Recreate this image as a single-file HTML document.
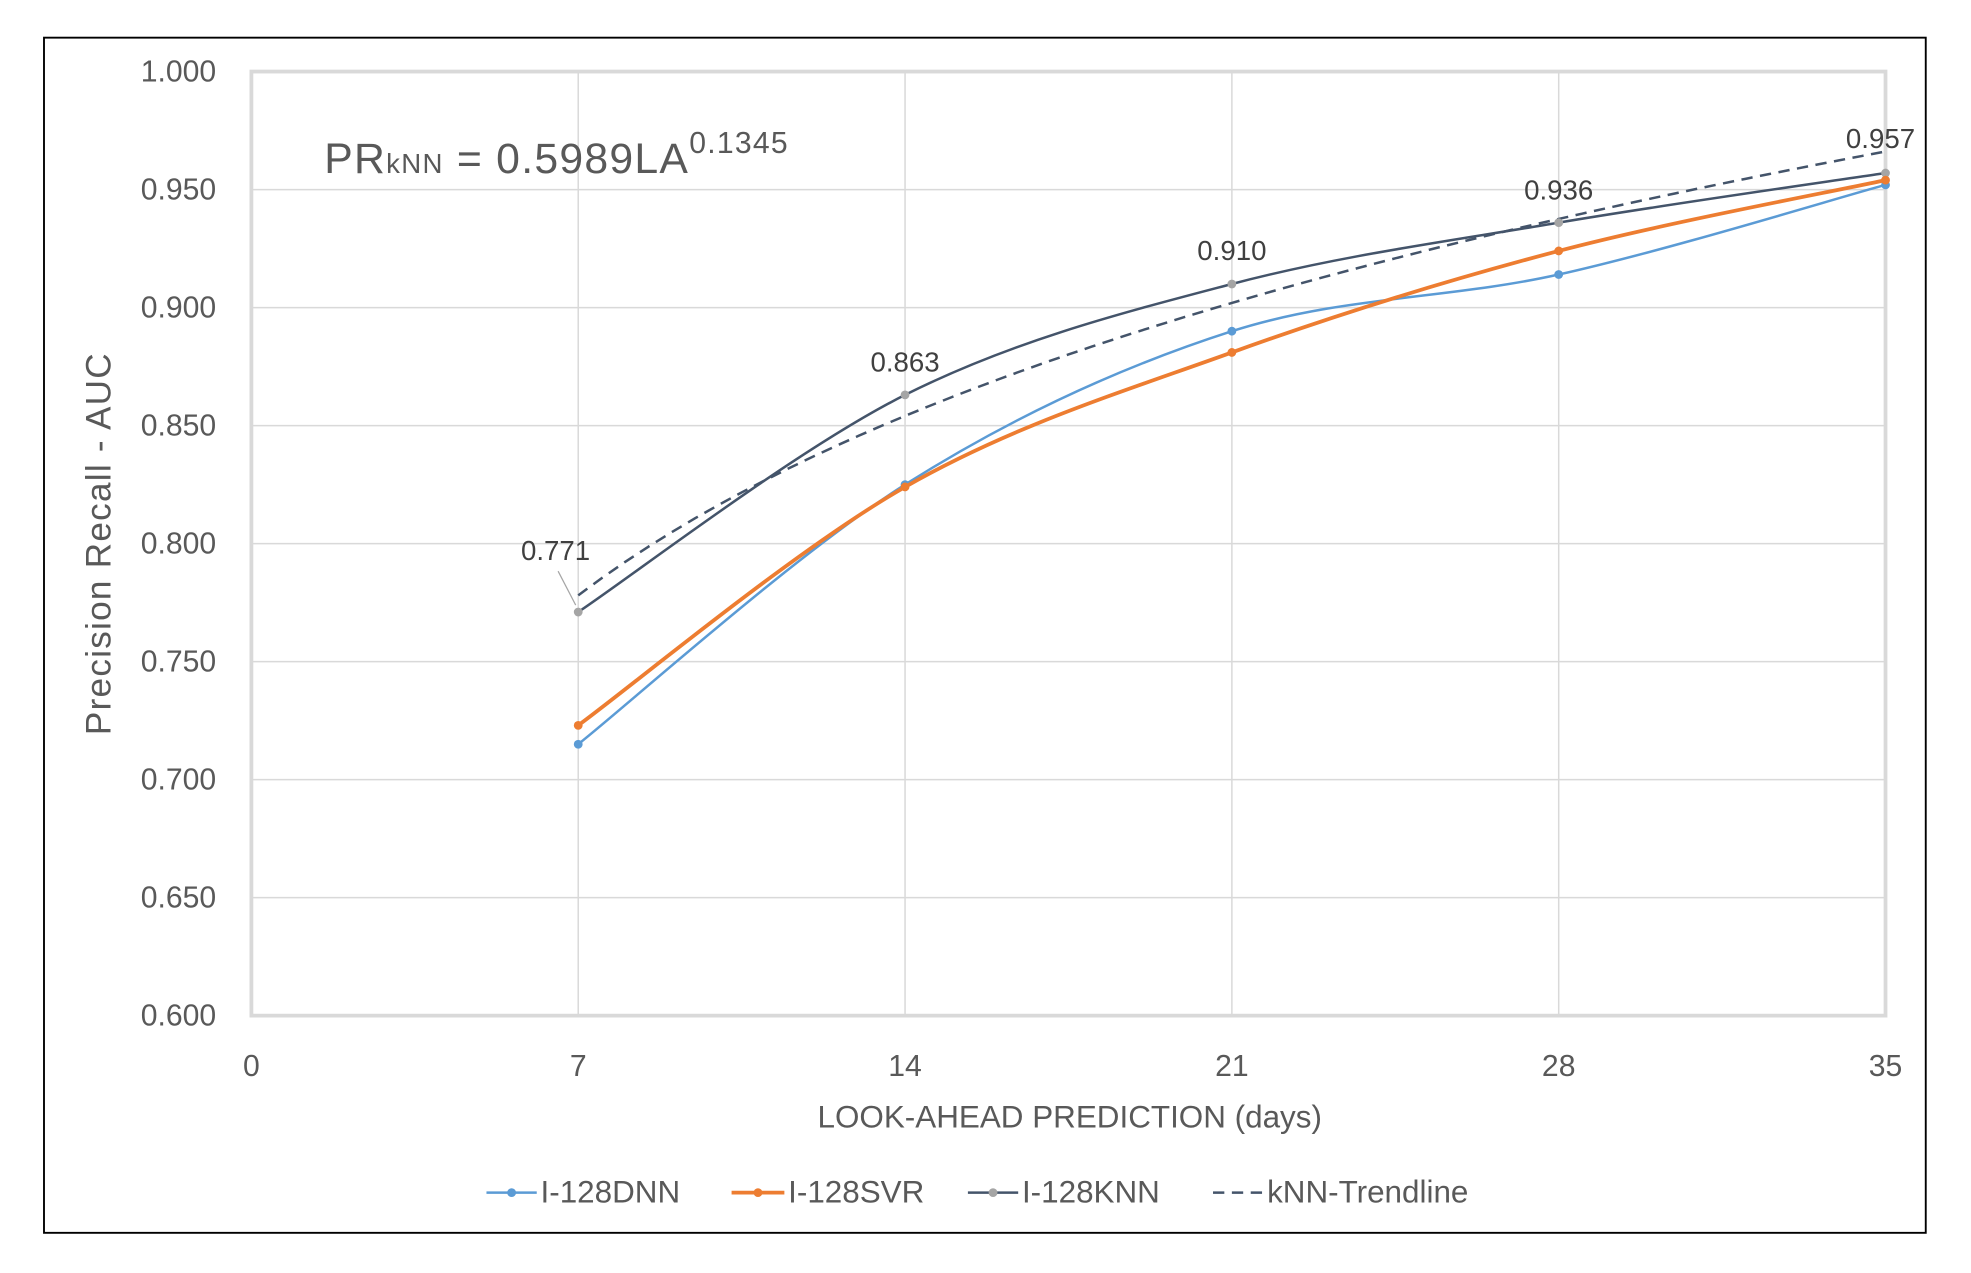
<!DOCTYPE html>
<html><head><meta charset="utf-8"><style>
html,body{margin:0;padding:0;background:#fff;}
svg{display:block;}
text{font-family:"Liberation Sans",sans-serif;}
</style></head><body>
<svg id="s" width="1971" height="1273" viewBox="0 0 1568 1014" preserveAspectRatio="none">
<rect x="0" y="0" width="1568" height="1014" fill="#fff"/>
<rect x="35" y="30" width="1497" height="952" fill="none" stroke="#000" stroke-width="1.5"/>
<g id="grid" stroke="#d9d9d9" stroke-width="1.2"></g>
<rect x="200" y="57" width="1300" height="752" fill="none" stroke="#d9d9d9" stroke-width="3"/>
<g id="yl" font-size="24" fill="#595959" text-anchor="end"></g>
<g id="xl" font-size="24" fill="#595959" text-anchor="middle"></g>
<text x="851" y="898" font-size="25" fill="#595959" text-anchor="middle">LOOK-AHEAD PREDICTION (days)</text>
<text transform="translate(88,433) rotate(-90)" font-size="28" fill="#595959" text-anchor="middle" letter-spacing="1">Precision Recall - AUC</text>
<text x="258" y="138" font-size="34" fill="#595959" letter-spacing="1">PR<tspan font-size="22">kNN</tspan> = 0.5989LA<tspan font-size="24" dy="-16">0.1345</tspan></text>
<g id="series"></g>
<g font-size="22" fill="#404040" text-anchor="middle">
<text x="442" y="446">0.771</text>
<text x="720" y="296">0.863</text>
<text x="980" y="207">0.910</text>
<text x="1240" y="159">0.936</text>
<text x="1496" y="118">0.957</text>
</g>
<line x1="444" y1="455" x2="458" y2="482" stroke="#a6a6a6" stroke-width="1"/>
<g font-size="25" fill="#595959">
<line x1="387" y1="950" x2="427" y2="950" stroke="#5b9bd5" stroke-width="2"/><circle cx="407" cy="950" r="3.5" fill="#5b9bd5"/>
<text x="430" y="958">I-128DNN</text>
<line x1="582" y1="950" x2="624" y2="950" stroke="#ed7d31" stroke-width="3"/><circle cx="603" cy="950" r="3.5" fill="#ed7d31"/>
<text x="627" y="958">I-128SVR</text>
<line x1="770" y1="950" x2="810" y2="950" stroke="#44546a" stroke-width="2"/><circle cx="790" cy="950" r="3.5" fill="#a5a5a5"/>
<text x="813" y="958">I-128KNN</text>
<line x1="965" y1="950" x2="1006" y2="950" stroke="#44546a" stroke-width="2" stroke-dasharray="9,6"/>
<text x="1008" y="958">kNN-Trendline</text>
</g>
</svg>
<script>
var NS="http://www.w3.org/2000/svg";
function X(d){return 200+d*1300/35;}
function Y(v){return 809-(v-0.6)*1880;}
function el(t,a,p){var e=document.createElementNS(NS,t);for(var k in a)e.setAttribute(k,a[k]);p.appendChild(e);return e;}
var g=document.getElementById('grid');
for(var i=1;i<8;i++){var v=0.6+i*0.05;el('line',{x1:200,x2:1500,y1:Y(v),y2:Y(v)},g);}
for(var d=7;d<35;d+=7){el('line',{x1:X(d),x2:X(d),y1:57,y2:809},g);}
var yl=document.getElementById('yl');
for(var i=0;i<=8;i++){var v=0.6+i*0.05;var t=el('text',{x:172,y:Y(v)+8},yl);t.textContent=v.toFixed(3);}
var xl=document.getElementById('xl');
for(var d=0;d<=35;d+=7){var t=el('text',{x:X(d),y:857},xl);t.textContent=d;}
var s=document.getElementById('series');
function smooth(pts){var p="M"+pts[0][0]+","+pts[0][1];for(var i=0;i<pts.length-1;i++){var p0=pts[i-1]||pts[i],p1=pts[i],p2=pts[i+1],p3=pts[i+2]||p2;var t=6;p+=" C"+(p1[0]+(p2[0]-p0[0])/t)+","+(p1[1]+(p2[1]-p0[1])/t)+" "+(p2[0]-(p3[0]-p1[0])/t)+","+(p2[1]-(p3[1]-p1[1])/t)+" "+p2[0]+","+p2[1];}return p;}
var days=[7,14,21,28,35];
var ser=[
 {v:[0.771,0.863,0.910,0.936,0.957],c:"#44546a",w:2,m:"#a5a5a5"},
 {v:[0.715,0.825,0.890,0.914,0.952],c:"#5b9bd5",w:2,m:"#5b9bd5"},
 {v:[0.723,0.824,0.881,0.924,0.954],c:"#ed7d31",w:3,m:"#ed7d31"}
];
var tp="";for(var d=7;d<=35.01;d+=0.5){var v=0.5989*Math.pow(d,0.1345);tp+=(tp?" L":"M")+X(d)+","+Y(v);}
el('path',{d:tp,fill:"none",stroke:"#44546a","stroke-width":2,"stroke-dasharray":"9,6"},s);
ser.forEach(function(o){var pts=days.map(function(d,i){return [X(d),Y(o.v[i])];});
 el('path',{d:smooth(pts),fill:"none",stroke:o.c,"stroke-width":o.w},s);
 pts.forEach(function(p){el('circle',{cx:p[0],cy:p[1],r:3.5,fill:o.m},s);});});
</script>
</body></html>
